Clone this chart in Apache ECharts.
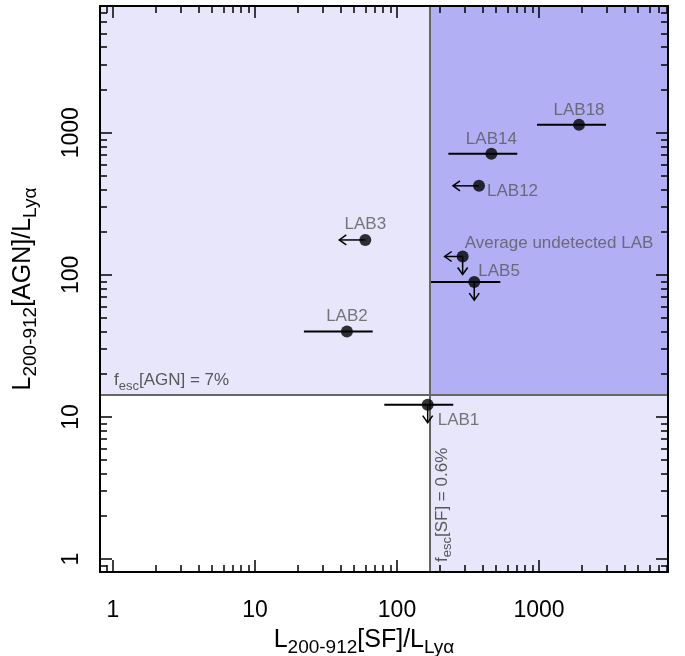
<!DOCTYPE html>
<html><head><meta charset="utf-8">
<script src="https://cdn.jsdelivr.net/npm/echarts@6/dist/echarts.min.js"></script>
<style>html,body{margin:0;padding:0;background:#fff}#c{width:685px;height:656px}</style>
</head><body><div id="c"></div>
<script>
// ---------- data ----------
const names   = ['LAB18','LAB14','LAB12','LAB3','Average undetected LAB','LAB5','LAB2','LAB1'];
const xVals   = [1914, 462, 378, 59.8, 290, 350, 44.4, 164.5];
const yVals   = [1138, 711, 423, 176, 134.6, 88.9, 39.9, 12.2];
const xLow    = [968, 230, null, null, null, 173.5, 22.1, 81.4];
const xHigh   = [2965, 703, null, null, null, 534, 67.4, 249];
const xUpperLimit = [false, false, true, true, true, false, false, false];
const yUpperLimit = [false, false, false, false, true, true, false, true];
const fescSF  = 169;   // L[SF]/L_Lya for f_esc[SF] = 0.6%
const fescAGN = 14.3;  // L[AGN]/L_Lya for f_esc[AGN] = 7%
const xRange  = [0.81, 8100];
const yRange  = [0.81, 7800];
const majorTicks = [1, 10, 100, 1000];
const tickLabels = ['1', '10', '100', '1000'];
const minorTicks = [0.9, 2, 3, 4, 5, 6, 7, 8, 9, 20, 30, 40, 50, 60, 70, 80, 90,
                    200, 300, 400, 500, 600, 700, 800, 900, 2000, 3000, 4000, 5000, 6000, 7000, 8000];

// ---------- styles ----------
const FONT = '"Liberation Sans", Arial, Helvetica, sans-serif';
const LIGHT = '#e8e6fb', DARK = '#b3aff5', LINEGRAY = '#666666', TEXTGRAY = '#585858';
const labelStyle = {
  'LAB18': {align: 'center', offset: [0, -14]},
  'LAB14': {align: 'center', offset: [0, -14]},
  'LAB12': {align: 'left',   offset: [8, 5]},
  'LAB3':  {align: 'center', offset: [0, -16]},
  'Average undetected LAB': {align: 'left', offset: [2, -13]},
  'LAB5':  {align: 'left',   offset: [4, -11]},
  'LAB2':  {align: 'center', offset: [0, -15]},
  'LAB1':  {align: 'left',   offset: [10, 16]}
};
const leftArrowLen = {'LAB12': 26, 'LAB3': 26, 'Average undetected LAB': 18};
const downArrowLen = 18;

function fmtTick(v) {
  let best = 0;
  majorTicks.forEach((t, i) => { if (Math.abs(Math.log10(t) - Math.log10(v)) < Math.abs(Math.log10(majorTicks[best]) - Math.log10(v))) best = i; });
  return tickLabels[best];
}

function mkAxis(kind, pos, major, withLabel) {
  const a = {
    type: 'log', logBase: 10, position: pos, gridIndex: 0, z: 6,
    min: kind === 'x' ? xRange[0] : yRange[0],
    max: kind === 'x' ? xRange[1] : yRange[1],
    axisLine: {show: major, onZero: false, lineStyle: {color: '#000', width: 2}},
    axisTick: {show: true, inside: true, length: major ? 12 : 7,
               customValues: major ? majorTicks : minorTicks,
               lineStyle: {color: '#000', width: 1.5}},
    axisLabel: {show: false},
    splitLine: {show: false}, minorTick: {show: false}, minorSplitLine: {show: false},
    silent: true
  };
  if (withLabel) {
    a.axisLabel = {show: true, customValues: majorTicks, formatter: fmtTick,
      color: '#000', fontSize: 23, fontFamily: FONT,
      margin: kind === 'x' ? 27 : 17, rotate: kind === 'x' ? 0 : 90};
  }
  return a;
}

const xAxes = [mkAxis('x', 'bottom', true, true), mkAxis('x', 'bottom', false, false),
               mkAxis('x', 'top', true, false), mkAxis('x', 'top', false, false)];
const yAxes = [mkAxis('y', 'left', true, true), mkAxis('y', 'left', false, false),
               mkAxis('y', 'right', true, false), mkAxis('y', 'right', false, false)];

const titleRich = {
  m: {fontSize: 25, lineHeight: 34, fontFamily: FONT, color: '#000', verticalAlign: 'middle'},
  s: {fontSize: 19, lineHeight: 19, fontFamily: FONT, color: '#000', verticalAlign: 'bottom'}
};
xAxes[0].name = '{m|L}{s|200-912}{m|[SF]/L}{s|Lyα}';
xAxes[0].nameLocation = 'middle';
xAxes[0].nameGap = 51;
xAxes[0].nameTextStyle = {color: '#000', fontFamily: FONT, padding: [0, 40, 0, 0], rich: titleRich};
yAxes[0].name = '{m|L}{s|200-912}{m|[AGN]/L}{s|Lyα}';
yAxes[0].nameLocation = 'middle';
yAxes[0].nameGap = 60;
yAxes[0].nameTextStyle = {color: '#000', fontFamily: FONT, rich: titleRich};

const barData = [];
names.forEach((n, i) => { if (xLow[i] != null) barData.push([xLow[i], xHigh[i], yVals[i]]); });
const arrowData = [];
names.forEach((n, i) => {
  if (xUpperLimit[i]) arrowData.push([xVals[i], yVals[i], 0, leftArrowLen[n]]);
  if (yUpperLimit[i]) arrowData.push([xVals[i], yVals[i], 1, downArrowLen]);
});

const subRich = {
  m: {fontSize: 17, lineHeight: 25, fontFamily: FONT, color: TEXTGRAY, verticalAlign: 'middle'},
  s: {fontSize: 13, lineHeight: 13, fontFamily: FONT, color: TEXTGRAY, verticalAlign: 'bottom'}
};

const option = {
  animation: false,
  backgroundColor: '#fff',
  grid: {left: 100, top: 6, right: 17, bottom: 84, containLabel: false, outerBoundsMode: 'none'},
  xAxis: xAxes,
  yAxis: yAxes,
  series: [
    { // shaded regions + threshold lines
      type: 'scatter', data: [], z: 1, silent: true,
      markArea: {silent: true, z: 1, data: [
        [{coord: [xRange[0], fescAGN], itemStyle: {color: LIGHT}}, {coord: [fescSF, yRange[1]]}],
        [{coord: [fescSF, fescAGN], itemStyle: {color: DARK}}, {coord: [xRange[1], yRange[1]]}],
        [{coord: [fescSF, yRange[0]], itemStyle: {color: LIGHT}}, {coord: [xRange[1], fescAGN]}]
      ]},
      markLine: {silent: true, symbol: 'none', z: 2, animation: false,
        lineStyle: {color: LINEGRAY, width: 2, type: 'solid'},
        data: [
          {yAxis: fescAGN, label: {show: true, position: 'insideStartTop', distance: [14, 2],
             formatter: '{m|f}{s|esc}{m|[AGN] = 7%}', rich: subRich}},
          {xAxis: fescSF, label: {show: true, position: 'insideStartBottom', distance: [10, 0],
             formatter: '{m|f}{s|esc}{m|[SF] = 0.6%}', rich: subRich}}
        ]}
    },
    { // horizontal error bars
      type: 'custom', z: 3, silent: true, data: barData,
      encode: {x: [0, 1], y: 2},
      renderItem(params, api) {
        const p1 = api.coord([api.value(0), api.value(2)]);
        const p2 = api.coord([api.value(1), api.value(2)]);
        return {type: 'line', shape: {x1: p1[0], y1: p1[1], x2: p2[0], y2: p2[1]},
                style: {stroke: '#000', lineWidth: 2}};
      }
    },
    { // upper-limit arrows
      type: 'custom', z: 3, silent: true, data: arrowData,
      encode: {x: 0, y: 1},
      renderItem(params, api) {
        const p = api.coord([api.value(0), api.value(1)]);
        const dir = api.value(2), L = api.value(3);
        let pts, head;
        if (dir === 0) {
          pts = [[p[0], p[1]], [p[0] - L, p[1]]];
          head = [[p[0] - L + 7, p[1] - 5], [p[0] - L, p[1]], [p[0] - L + 7, p[1] + 5]];
        } else {
          pts = [[p[0], p[1]], [p[0], p[1] + L]];
          head = [[p[0] - 5, p[1] + L - 7], [p[0], p[1] + L], [p[0] + 5, p[1] + L - 7]];
        }
        return {type: 'group', children: [
          {type: 'polyline', shape: {points: pts}, style: {stroke: '#000', lineWidth: 1.5, fill: null}},
          {type: 'polyline', shape: {points: head}, style: {stroke: '#000', lineWidth: 1.5, fill: null}}
        ]};
      }
    },
    { // points with labels
      type: 'scatter', z: 4, symbol: 'circle', symbolSize: 12, silent: true,
      itemStyle: {color: '#000'},
      data: names.map((n, i) => ({
        name: n, value: [xVals[i], yVals[i]],
        label: {show: true, position: 'inside', formatter: n, color: TEXTGRAY,
                fontSize: 17, fontFamily: FONT, align: labelStyle[n].align,
                verticalAlign: 'middle', offset: labelStyle[n].offset}
      }))
    }
  ]
};

const chart = echarts.init(document.getElementById('c'), null, {renderer: 'canvas'});
chart.setOption(option);
</script></body></html>
